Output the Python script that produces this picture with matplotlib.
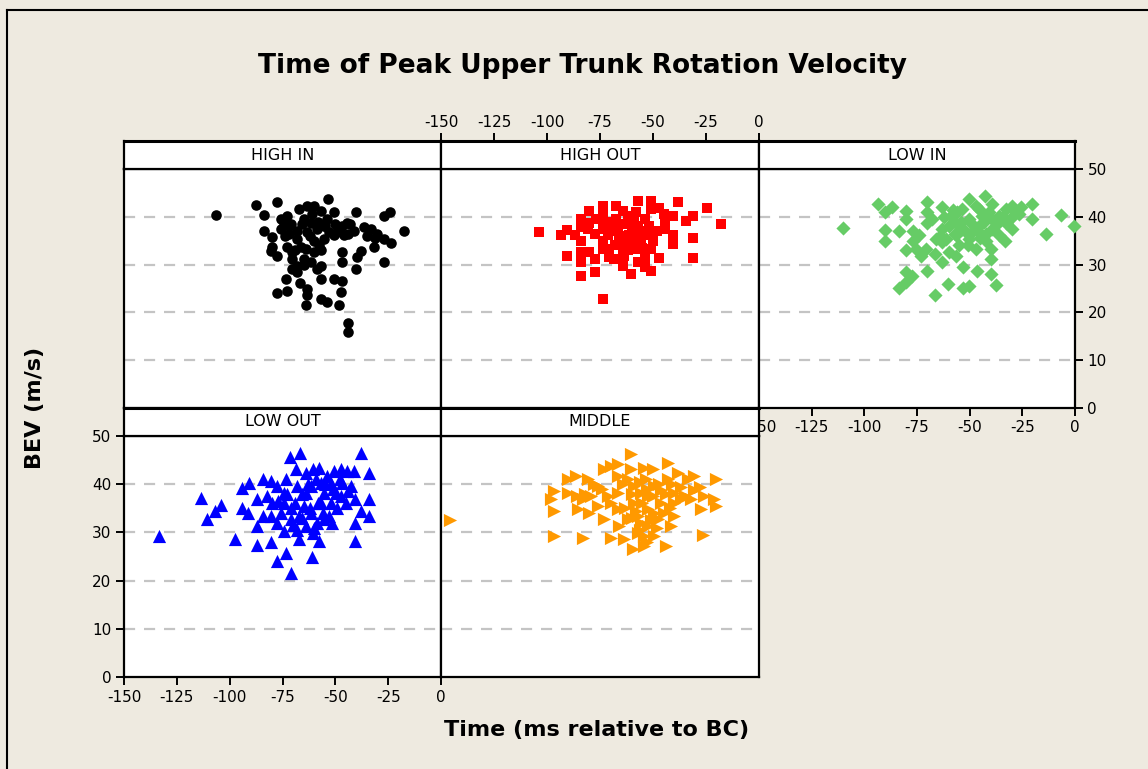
import matplotlib
matplotlib.use("Agg")
import matplotlib.pyplot as plt
from matplotlib.lines import Line2D

plt.rcParams['axes.unicode_minus'] = False

# data (time in ms relative to BC, BEV in m/s)
high_in_t = [-106.6, -87.7, -77.4, -83.8, -53.5, -50.6, -40.4, -27.0, -24.3, -17.5,
             -23.8, -27.0, -31.7, -33.3, -38.0, -40.4, -39.6, -46.7, -46.7, -45.9,
             -41.2, -36.4, -50.6, -50.6, -46.7, -47.5, -48.3, -44.0, -44.0, -56.9,
             -53.8, -64.0, -63.6, -63.6, -66.7, -73.5, -73.0, -77.4, -56.9, -58.5,
             -56.9, -70.3, -68.0, -70.3, -64.8, -77.4, -80.6, -79.8, -72.7, -68.0,
             -64.0, -60.1, -57.7, -55.4, -83.8, -79.8, -75.9, -75.9, -72.7, -71.1,
             -67.2, -63.2, -60.1, -56.9, -64.8, -61.7, -58.5, -68.0, -71.9, -53.8,
             -46.7, -44.3, -30.1, -27.0, -70.3, -66.4, -53.0, -49.0, -55.4, -63.2,
             -61.7, -68.0, -74.3, -62.0, -58.0, -66.0, -69.0, -60.0, -57.0, -65.0,
             -72.0, -74.0, -61.0, -55.0, -50.0, -44.0, -43.0, -35.0, -31.0]
high_in_v = [40.4, 42.5, 43.0, 40.4, 43.7, 40.9, 40.9, 40.1, 40.9, 37.1,
             34.5, 30.5, 33.6, 37.4, 32.9, 29.1, 31.5, 30.5, 32.6, 36.1,
             37.1, 37.8, 36.1, 27.0, 26.6, 24.2, 21.5, 17.8, 16.0, 22.8,
             22.2, 21.5, 23.6, 24.9, 26.2, 27.0, 24.5, 24.1, 27.0, 29.1,
             29.8, 29.1, 29.8, 31.2, 31.2, 31.7, 32.9, 33.6, 33.6, 35.4,
             33.3, 32.6, 34.0, 35.4, 37.1, 35.7, 37.4, 39.5, 40.2, 38.5,
             41.6, 42.3, 42.2, 41.3, 39.5, 38.8, 37.4, 37.1, 36.4, 39.5,
             38.1, 38.8, 36.4, 35.4, 32.6, 33.6, 36.8, 36.8, 38.1, 36.8,
             30.5, 28.4, 38.8, 36.0, 39.0, 38.5, 33.0, 35.0, 33.0, 30.0,
             38.0, 36.0, 40.5, 38.0, 38.5, 36.5, 38.5, 36.0, 35.5]

high_out_t = [-103.9, -93.4, -90.6, -86.8, -90.6, -84.0, -84.0, -84.0, -84.0, -80.0,
              -77.4, -77.4, -73.7, -84.0, -84.0, -80.0, -80.0, -76.9, -77.4, -73.7,
              -73.7, -73.7, -73.7, -73.7, -70.6, -70.6, -67.5, -67.5, -67.5, -68.2,
              -64.3, -64.3, -64.3, -64.3, -62.0, -61.2, -61.2, -60.4, -58.0, -57.2,
              -57.2, -57.2, -57.2, -53.8, -53.8, -53.8, -53.8, -50.9, -50.9, -50.9,
              -50.9, -50.9, -47.0, -47.0, -44.3, -44.3, -40.7, -40.7, -40.7, -38.0,
              -34.4, -31.3, -31.3, -31.3, -24.7, -17.9, -71.4, -65.1, -58.8, -55.7,
              -63.5, -66.7, -80.8, -55.7, -70.0, -66.0, -62.0, -60.0, -56.0, -52.0,
              -59.0, -64.0, -68.0, -62.0, -55.0, -50.0, -72.0, -48.0, -45.0]
high_out_v = [36.8, 36.1, 37.2, 36.1, 31.7, 35.0, 32.6, 30.5, 27.7, 32.6,
              31.2, 28.4, 22.9, 39.5, 37.8, 41.3, 38.8, 39.5, 36.4, 42.3,
              40.2, 37.4, 35.0, 33.3, 33.3, 31.5, 42.3, 39.5, 37.1, 31.2,
              41.3, 38.5, 33.3, 29.8, 40.2, 36.1, 34.0, 28.0, 40.9, 43.4,
              38.1, 33.3, 30.5, 39.5, 36.1, 31.5, 29.4, 43.4, 41.6, 36.4,
              33.3, 28.7, 41.8, 31.3, 39.5, 37.4, 40.2, 36.1, 34.3, 43.0,
              39.2, 40.2, 35.5, 31.3, 41.8, 38.4, 36.1, 35.7, 35.4, 34.7,
              31.9, 37.8, 37.4, 37.1, 38.0, 36.0, 38.5, 37.0, 35.5, 38.0,
              40.0, 35.0, 34.0, 33.0, 33.5, 35.0, 39.0, 37.0, 40.5]

low_in_t = [-110.1, -93.4, -90.2, -86.7, -90.2, -90.2, -83.5, -80.1, -80.1, -80.1,
            -76.9, -76.9, -80.1, -77.2, -80.4, -83.5, -73.3, -70.1, -70.9, -70.1,
            -70.1, -70.1, -66.5, -66.5, -63.3, -63.3, -63.3, -63.3, -60.1, -59.8,
            -59.0, -56.6, -56.6, -53.2, -53.2, -50.3, -53.5, -50.3, -50.3, -50.3,
            -47.2, -46.4, -45.6, -45.6, -42.7, -42.4, -40.0, -40.0, -40.0, -39.2,
            -39.2, -37.3, -36.1, -33.2, -32.9, -32.9, -30.1, -29.7, -26.6, -25.8,
            -20.3, -20.3, -13.6, -6.8, -0.5, -56.6, -53.5, -48.7, -55.1, -61.4,
            -67.7, -66.1, -44.0, -36.1, -39.2, -42.4, -47.2, -55.9, -74.0, -75.6,
            -60.0, -57.0, -54.0, -52.0, -49.0, -46.0, -43.0, -41.0, -37.0, -34.0,
            -58.0, -62.0, -64.0, -51.0, -45.0, -30.0, -28.0]
low_in_v = [37.6, 42.7, 40.9, 42.0, 37.3, 35.0, 37.1, 41.3, 39.5, 33.1,
            37.1, 35.0, 28.4, 27.7, 26.3, 25.2, 31.9, 28.7, 33.3, 43.0,
            40.9, 38.8, 23.6, 32.2, 30.5, 42.0, 37.4, 34.7, 25.9, 32.6,
            40.2, 36.1, 31.9, 29.4, 25.2, 25.6, 41.6, 43.7, 39.5, 35.4,
            33.3, 28.7, 41.6, 38.1, 44.4, 36.4, 33.3, 31.2, 28.0, 42.7,
            39.5, 25.7, 36.1, 35.0, 41.6, 38.8, 37.4, 42.3, 40.6, 42.0,
            42.7, 39.5, 36.3, 40.4, 38.0, 38.8, 37.4, 36.8, 34.0, 35.4,
            39.5, 35.4, 40.2, 40.2, 37.4, 35.0, 42.3, 40.9, 36.1, 33.3,
            38.0, 36.5, 39.0, 37.0, 38.5, 37.0, 39.0, 41.0, 38.5, 40.0,
            41.5, 40.0, 36.0, 34.0, 35.5, 40.0, 41.0]

low_out_t = [-133.4, -113.7, -110.9, -107.1, -103.9, -97.5, -94.0, -90.9, -94.0, -91.3,
             -86.9, -87.2, -86.9, -84.1, -84.1, -80.6, -80.6, -79.8, -77.8, -77.4,
             -74.3, -73.5, -71.1, -71.5, -66.9, -68.5, -73.5, -74.3, -71.1, -67.2,
             -67.2, -64.0, -64.0, -64.0, -60.9, -60.4, -60.4, -57.7, -57.7, -56.9,
             -56.9, -55.4, -53.8, -51.4, -50.6, -49.8, -47.5, -46.7, -45.1, -44.3,
             -41.2, -40.9, -40.9, -40.9, -38.0, -37.7, -34.1, -34.1, -34.1, -68.0,
             -61.7, -55.4, -52.2, -64.8, -61.7, -77.4, -82.2, -71.1, -75.9, -58.5,
             -47.5, -52.2, -42.7, -80.6, -68.0, -74.3, -66.0, -63.0, -59.0, -55.0,
             -51.0, -48.0, -58.0, -62.0, -66.0, -69.0, -73.0, -56.0, -53.0, -60.0,
             -70.0, -44.0, -49.0, -77.0]
low_out_v = [29.3, 37.2, 32.7, 34.4, 35.6, 28.6, 39.3, 40.3, 35.1, 34.1,
             31.3, 27.3, 36.9, 41.0, 33.4, 28.0, 40.7, 36.2, 24.1, 32.0,
             30.3, 25.8, 21.6, 45.7, 46.5, 43.2, 41.0, 38.2, 35.1, 28.6,
             33.4, 42.4, 38.2, 31.3, 25.0, 29.9, 43.1, 28.2, 43.4, 40.3,
             36.2, 32.7, 41.7, 32.0, 42.7, 38.2, 43.1, 40.3, 36.2, 42.7,
             42.7, 36.9, 32.0, 28.2, 46.5, 34.4, 42.4, 37.0, 33.4, 39.6,
             39.6, 38.2, 36.2, 35.5, 34.1, 39.6, 37.6, 32.7, 34.1, 32.0,
             37.6, 40.3, 39.6, 33.4, 30.6, 36.2, 38.0, 40.0, 41.0, 40.0,
             39.0, 41.0, 36.0, 35.0, 33.0, 36.0, 38.0, 34.0, 33.5, 31.0,
             31.5, 38.5, 35.0, 36.5]

middle_t = [-145.6, -96.5, -83.2, -69.8, -26.6, -98.1, -96.5, -96.5, -90.3, -90.3,
            -86.3, -85.5, -83.2, -80.8, -80.0, -76.1, -76.1, -73.0, -73.0, -69.8,
            -66.7, -66.7, -66.7, -66.7, -65.9, -63.5, -60.4, -60.4, -59.6, -58.8,
            -58.8, -57.2, -57.2, -54.1, -54.1, -53.3, -52.5, -52.5, -52.5, -50.2,
            -49.4, -49.4, -47.8, -46.2, -43.9, -43.1, -43.1, -41.5, -39.9, -39.9,
            -38.4, -36.8, -33.6, -30.5, -30.5, -27.4, -25.8, -21.1, -20.3, -20.3,
            -32.1, -61.9, -71.4, -55.7, -49.4, -55.7, -61.9, -79.2, -46.2, -39.9,
            -54.1, -64.0, -60.0, -56.0, -53.0, -50.0, -47.0, -44.0, -41.0, -37.0,
            -58.0, -55.0, -51.0, -56.0, -60.0, -63.0, -70.0, -74.0, -78.0, -82.0,
            -86.0, -35.0, -28.0, -45.0, -48.0, -53.0, -42.0]
middle_v = [32.5, 29.3, 28.9, 28.9, 29.4, 36.9, 38.6, 34.4, 41.0, 38.2,
            41.7, 34.8, 36.9, 41.0, 34.1, 39.6, 35.5, 43.1, 32.7, 43.8,
            44.1, 41.7, 38.2, 34.8, 31.3, 28.6, 46.2, 43.1, 26.5, 39.6,
            36.2, 33.4, 29.9, 43.4, 27.2, 41.0, 37.6, 34.8, 31.3, 43.1,
            39.6, 29.3, 32.7, 36.2, 27.2, 44.5, 41.0, 31.3, 38.2, 33.4,
            42.4, 36.9, 41.0, 41.7, 38.9, 34.8, 37.6, 36.9, 35.5, 41.1,
            36.9, 41.0, 37.6, 38.2, 34.1, 32.0, 32.7, 37.6, 38.9, 36.2,
            29.3, 40.0, 38.0, 40.5, 39.0, 37.5, 40.0, 38.0, 40.0, 39.5,
            34.5, 36.0, 32.5, 30.5, 33.0, 35.0, 36.0, 39.0, 40.0, 38.0,
            37.5, 37.5, 39.5, 34.0, 31.0, 28.0, 35.0]

groups = ['HIGH IN', 'HIGH OUT', 'LOW IN', 'LOW OUT', 'MIDDLE']
xticks = [-150, -125, -100, -75, -50, -25, 0]
yticks = [0, 10, 20, 30, 40, 50]

W, H = 1148, 769
BG = '#EEEAE0'

fig = plt.figure(figsize=(W / 100, H / 100), dpi=100, facecolor=BG)


def box(l, t, r, b):
    # pixel box -> figure fraction rect
    return [l / W, 1 - b / H, (r - l) / W, (b - t) / H]


def style_spines(ax):
    for s in ax.spines.values():
        s.set_linewidth(1.6)
        s.set_color('black')


panels = [
    # name, t, v, marker, color, size, col px, row
    ('HIGH IN', high_in_t, high_in_v, 'o', 'black', 58, (124, 441), 0),
    ('HIGH OUT', high_out_t, high_out_v, 's', '#FF0000', 50, (441, 759), 0),
    ('LOW IN', low_in_t, low_in_v, 'D', '#66CC66', 52, (759, 1075), 0),
    ('LOW OUT', low_out_t, low_out_v, '^', '#0000FF', 90, (124, 441), 1),
    ('MIDDLE', middle_t, middle_v, '>', '#FF9900', 90, (441, 759), 1),
]
rows = {0: (141, 169, 408), 1: (408, 436, 677)}

tick_kw = dict(direction='out', length=6, width=1.4, labelsize=11, colors='black')

for name, t, v, mk, col, sz, (l, r), row in panels:
    st, pt, pb = rows[row]
    ax = fig.add_axes(box(l, pt, r, pb))
    ax.set_xlim(-150, 0)
    ax.set_ylim(0, 50)
    for g in [10, 20, 30, 40]:
        ax.axhline(g, color='#C4C4C4', lw=1.6, dashes=(5, 4), zorder=1)
    ax.scatter(t, v, marker=mk, s=sz, c=col, linewidths=0, zorder=3, clip_on=False)
    style_spines(ax)
    ax.set_xticks([])
    ax.set_yticks([])

    if name == 'LOW IN':
        ax.set_xticks(xticks)
        ax.yaxis.tick_right()
        ax.set_yticks(yticks)
        ax.tick_params(axis='both', pad=3, **tick_kw)
    if name == 'LOW OUT':
        ax.set_xticks(xticks)
        ax.set_yticks(yticks)
        ax.tick_params(axis='both', pad=3, **tick_kw)

    sax = fig.add_axes(box(l, st, r, pt))
    sax.set_facecolor('white')
    sax.set_xlim(-150, 0)
    sax.set_yticks([])
    sax.set_xticks([])
    style_spines(sax)
    sax.spines['top'].set_linewidth(2.2)
    sax.text(0.5, 0.5, name, transform=sax.transAxes, ha='center', va='center',
             fontsize=11.5)
    if name == 'HIGH OUT':
        sax.xaxis.tick_top()
        sax.set_xticks(xticks)
        sax.tick_params(axis='x', pad=2, **tick_kw)

fig.text(582 / W, 1 - 66 / H, 'Time of Peak Upper Trunk Rotation Velocity',
         ha='center', va='center', fontsize=19, fontweight='bold')
fig.text(597 / W, 1 - 730 / H, 'Time (ms relative to BC)',
         ha='center', va='center', fontsize=16, fontweight='bold')
fig.text(35 / W, 1 - 408 / H, 'BEV (m/s)', rotation=90,
         ha='center', va='center', fontsize=16, fontweight='bold')

# outer frame (left and top edges visible)
fig.add_artist(Line2D([7 / W, 7 / W], [0, 1 - 10 / H], color='black', lw=1.5,
                      transform=fig.transFigure))
fig.add_artist(Line2D([7 / W, 1], [1 - 10 / H, 1 - 10 / H], color='black', lw=1.5,
                      transform=fig.transFigure))

fig.savefig('out.png', dpi=100, facecolor=BG)
